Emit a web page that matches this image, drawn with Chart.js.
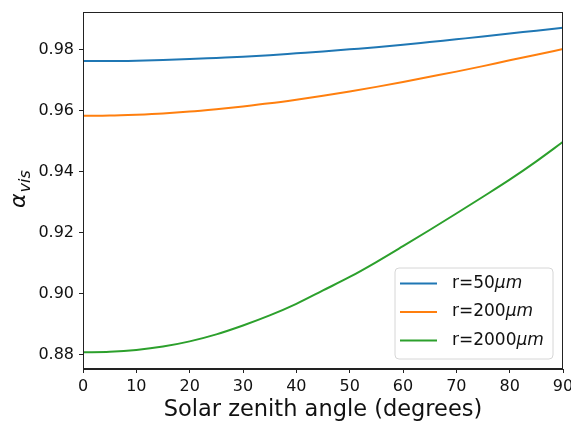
<!DOCTYPE html>
<html>
<head>
<meta charset="utf-8">
<script src="https://cdn.jsdelivr.net/npm/chart.js@4.4.1/dist/chart.umd.min.js"></script>
<style>
  html, body { margin: 0; padding: 0; background: #fff; }
  #wrap { width: 571px; height: 423px; }
</style>
</head>
<body>
<div id="wrap"><canvas id="chart" width="571" height="423"></canvas></div>
<script>
// Datos
const angles = [0, 5, 10, 15, 20, 25, 30, 35, 40, 45, 50, 55, 60, 65, 70, 75, 80, 85, 90];
const alpha50 = [0.9762, 0.9762, 0.9763, 0.9765, 0.9768, 0.9772, 0.9776, 0.9781, 0.9787, 0.9793,
    0.9800, 0.9807, 0.9815, 0.9824, 0.9833, 0.9842, 0.9852, 0.9861, 0.9871];
const alpha200 = [0.9582, 0.9583, 0.9586, 0.9590, 0.9596, 0.9604, 0.9613, 0.9623, 0.9635, 0.9648,
    0.9662, 0.9677, 0.9693, 0.9710, 0.9727, 0.9745, 0.9764, 0.9782, 0.9801];
const alpha2000 = [0.8807, 0.8809, 0.8815, 0.8826, 0.8843, 0.8866, 0.8895, 0.8928, 0.8966, 0.9010,
    0.9054, 0.9103, 0.9155, 0.9208, 0.9262, 0.9317, 0.9373, 0.9433, 0.9497];
const radiusLabels = ['50', '200', '2000'];
const yTicks = [0.88, 0.90, 0.92, 0.94, 0.96, 0.98];
const xTicks = [0, 10, 20, 30, 40, 50, 60, 70, 80, 90];

const colors = ['#1f77b4', '#ff7f0e', '#2ca02c'];
const FONT = "'DejaVu Sans', sans-serif";

const toPoints = vals => vals.map((v, i) => ({ x: angles[i], y: v }));
const series = [alpha50, alpha200, alpha2000];

// Marco, títulos y leyenda estilo matplotlib
const decorPlugin = {
    id: 'decor',
    afterDraw(chart) {
        const ctx = chart.ctx;
        const a = chart.chartArea;
        ctx.save();

        // caja completa de ejes
        ctx.strokeStyle = '#222';
        ctx.lineWidth = 1;
        ctx.strokeRect(a.left + 0.5, a.top + 0.5, a.right - a.left - 1, a.bottom - a.top - 1);

        // título eje x
        ctx.fillStyle = '#111';
        ctx.font = `22.5px ${FONT}`;
        ctx.textAlign = 'center';
        ctx.textBaseline = 'alphabetic';
        ctx.fillText('Solar zenith angle (degrees)', (a.left + a.right) / 2, 416);

        // título eje y: α con subíndice "vis"
        ctx.save();
        ctx.translate(25, 208);
        ctx.rotate(-Math.PI / 2);
        ctx.textAlign = 'left';
        ctx.font = `italic 22px ${FONT}`;
        ctx.fillText('α', 0, 0);
        const w = ctx.measureText('α').width;
        ctx.font = `italic 16px ${FONT}`;
        ctx.fillText('vis', w + 1, 5);
        ctx.restore();

        // leyenda
        const bx = 395, by = 268, bw = 158, bh = 91, r = 4;
        ctx.beginPath();
        ctx.moveTo(bx + r, by);
        ctx.arcTo(bx + bw, by, bx + bw, by + bh, r);
        ctx.arcTo(bx + bw, by + bh, bx, by + bh, r);
        ctx.arcTo(bx, by + bh, bx, by, r);
        ctx.arcTo(bx, by, bx + bw, by, r);
        ctx.closePath();
        ctx.fillStyle = 'rgba(255,255,255,0.8)';
        ctx.fill();
        ctx.strokeStyle = '#d6d6d6';
        ctx.lineWidth = 1;
        ctx.stroke();

        const rows = [283.5, 312, 340.5];
        radiusLabels.forEach((lab, i) => {
            const y = rows[i];
            ctx.strokeStyle = colors[i];
            ctx.lineWidth = 2;
            ctx.beginPath();
            ctx.moveTo(400, y);
            ctx.lineTo(437, y);
            ctx.stroke();

            ctx.fillStyle = '#111';
            ctx.textAlign = 'left';
            ctx.textBaseline = 'middle';
            ctx.font = `17px ${FONT}`;
            const t = 'r=' + lab;
            ctx.fillText(t, 452, y);
            const tw = ctx.measureText(t).width;
            ctx.font = `italic 17px ${FONT}`;
            ctx.fillText('μm', 452 + tw, y);
        });

        ctx.restore();
    }
};

new Chart(document.getElementById('chart'), {
    type: 'line',
    data: {
        datasets: series.map((vals, i) => ({
            label: 'r=' + radiusLabels[i] + 'μm',
            data: toPoints(vals),
            borderColor: colors[i],
            borderWidth: 2,
            pointRadius: 0,
            cubicInterpolationMode: 'monotone',
            fill: false
        }))
    },
    options: {
        responsive: false,
        animation: false,
        layout: { padding: { left: 0, right: 8, top: 12, bottom: 0 } },
        plugins: { legend: { display: false }, tooltip: { enabled: false } },
        scales: {
            x: {
                type: 'linear',
                min: 0,
                max: 90,
                afterBuildTicks: s => { s.ticks = xTicks.map(v => ({ value: v })); },
                afterFit: s => { s.height = 54; s.paddingLeft = 0; s.paddingRight = 0; },
                grid: { drawOnChartArea: false, tickLength: 4, color: '#222' },
                border: { color: '#222' },
                ticks: { color: '#111', font: { family: FONT, size: 16 }, padding: 4, maxRotation: 0 }
            },
            y: {
                type: 'linear',
                min: 0.87524,
                max: 0.99224,
                afterBuildTicks: s => { s.ticks = yTicks.map(v => ({ value: v })); },
                afterFit: s => { s.width = 83; s.paddingTop = 0; s.paddingBottom = 0; },
                grid: { drawOnChartArea: false, tickLength: 4, color: '#222' },
                border: { color: '#222' },
                ticks: {
                    color: '#111',
                    font: { family: FONT, size: 16 },
                    padding: 5,
                    callback: v => v.toFixed(2)
                }
            }
        }
    },
    plugins: [decorPlugin]
});
</script>
</body>
</html>
